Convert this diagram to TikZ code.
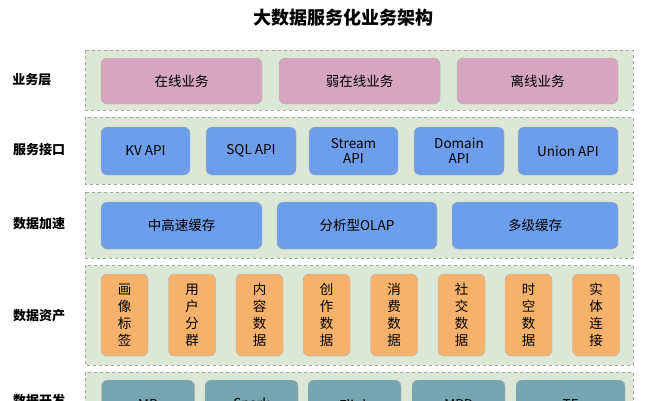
\documentclass[tikz,border=0pt]{standalone}
\usepackage{fontspec}
\setmainfont{Noto Sans CJK SC}
\usetikzlibrary{positioning}
\definecolor{panelgreen}{HTML}{DCE8D5}
\definecolor{pinkbox}{HTML}{D5A6BD}
\definecolor{bluebox}{HTML}{6D9EEB}
\definecolor{orangebox}{HTML}{F6B26B}
\definecolor{tealbox}{HTML}{76A5AF}
\begin{document}
\begin{tikzpicture}[x=1pt,y=-1pt,
  panel/.style={draw=gray!70, dashed, fill=panelgreen},
  box/.style={draw=gray!60, rounded corners=6pt, inner sep=0pt, font=\fontsize{13.5}{15}\selectfont, align=center},
  layer/.style={font=\fontsize{13}{15}\selectfont\bfseries}]
\useasboundingbox (0,0) rectangle (645,400);
\clip (0,0) rectangle (645,400);
\node (title) [font=\fontsize{18}{20}\selectfont\bfseries] at (343,18) {大数据服务化业务架构};

% panels
\draw[panel] (85,50) rectangle (633,110);
\draw[panel] (85,117) rectangle (633,184);
\draw[panel] (85,192) rectangle (633,258);
\draw[panel] (85,265) rectangle (633,365);
\draw[panel] (85,372) rectangle (633,430);

% layer labels
\node (l1) [layer] at (32,80) {业务层};
\node (l2) [layer] at (39,150) {服务接口};
\node (l3) [layer] at (39,224) {数据加速};
\node (l4) [layer] at (39,316) {数据资产};
\node (l5) [layer] at (39,401) {数据开发};

% business
\node (b1) [box, fill=pinkbox, minimum width=161, minimum height=46] at (181.5,81) {在线业务};
\node (b2) [box, fill=pinkbox, minimum width=161, minimum height=46] at (359.5,81) {弱在线业务};
\node (b3) [box, fill=pinkbox, minimum width=161, minimum height=46] at (537.5,81) {离线业务};

% service api
\node (s1) [box, fill=bluebox, minimum width=89, minimum height=48] at (145.5,151) {KV API};
\node (s2) [box, fill=bluebox, minimum width=90, minimum height=48] at (251,151) {SQL API};
\node (s3) [box, fill=bluebox, minimum width=89, minimum height=48] at (353.5,151) {Stream\\API};
\node (s4) [box, fill=bluebox, minimum width=90, minimum height=48] at (459,151) {Domain\\API};
\node (s5) [box, fill=bluebox, minimum width=100, minimum height=48] at (568,151) {Union API};

% acceleration
\node (a1) [box, fill=bluebox, minimum width=161, minimum height=47] at (181.5,225.5) {中高速缓存};
\node (a2) [box, fill=bluebox, minimum width=160, minimum height=47] at (357,225.5) {分析型OLAP};
\node (a3) [box, fill=bluebox, minimum width=166, minimum height=47] at (535,225.5) {多级缓存};

% assets
\foreach \x/\t [count=\i] in {124.5/画\\像\\标\\签, 192/用\\户\\分\\群, 259.5/内\\容\\数\\据, 326.5/创\\作\\数\\据,
  394/消\\费\\数\\据, 461.5/社\\交\\数\\据, 528.5/时\\空\\数\\据, 596/实\\体\\连\\接}
  \node (d\i) [box, fill=orangebox, minimum width=47, minimum height=82,
    font=\fontsize{13.5}{17}\selectfont] at (\x,315) {\t};

% development
\node (m1) [box, fill=tealbox, minimum width=93, minimum height=50] at (148,405) {MR};
\node (m2) [box, fill=tealbox, minimum width=93, minimum height=50] at (251.5,405) {Spark};
\node (m3) [box, fill=tealbox, minimum width=93, minimum height=50] at (354.5,405) {Flink};
\node (m4) [box, fill=tealbox, minimum width=93, minimum height=50] at (458.5,405) {MPP};
\node (m5) [box, fill=tealbox, minimum width=109, minimum height=50] at (570.5,405) {TF};
\end{tikzpicture}
\end{document}
